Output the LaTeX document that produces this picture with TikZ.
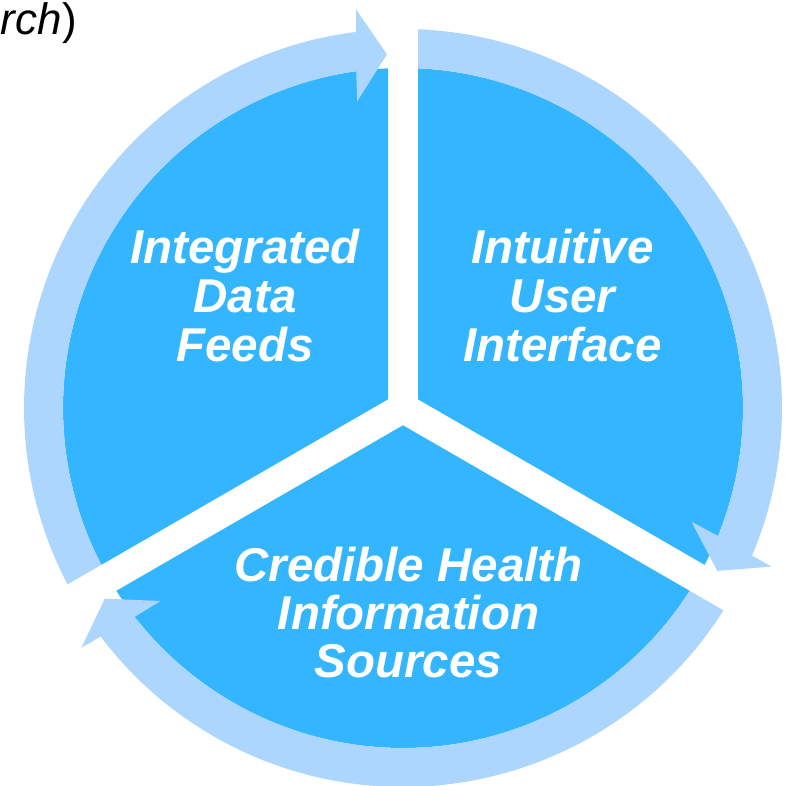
\documentclass[tikz,border=0pt]{standalone}
\usepackage{fontspec}
\setmainfont{Liberation Sans}
\definecolor{pieblue}{HTML}{33B5FF}
\definecolor{ringblue}{HTML}{ADD6FE}
\newcommand{\RingArrow}[2]{%
  \fill[ringarrow] ({#1-2.27}:379) arc[start angle={#1-2.27}, end angle={#2+7.1}, radius=379]
    -- ({#2+6.7}:401) -- ({#2+2.6}:354) -- ({#2+8.5}:310) -- ({#2+7.9}:340)
    arc[start angle={#2+7.9}, end angle={#1-2.53}, radius=340] -- cycle;}
\newcommand{\PieSector}[1]{%
  \fill[sector] ({#1+60}:17.32) -- ({#1+2.53}:340)
    arc[start angle={#1+2.53}, end angle={#1+117.47}, radius=340] -- cycle;}
\begin{document}
\begin{tikzpicture}[x=0.75pt,y=0.75pt,
  sector/.style={fill=pieblue,draw=none},
  ringarrow/.style={fill=ringblue,draw=none},
  lbl/.style={text=white,font=\fontsize{35.6}{37}\selectfont\bfseries\itshape,inner sep=0pt,anchor=base}]
\useasboundingbox (0,0) rectangle (786,786);
\fill[white] (0,0) rectangle (786,786);
\begin{scope}[shift={(403,378)}]
  \PieSector{-30}
  \PieSector{90}
  \PieSector{210}
  \RingArrow{210}{90}
  \RingArrow{90}{-30}
  \RingArrow{-30}{-150}
\end{scope}
% labels
\node[lbl] (l1) at (245,522) {Integrated};
\node[lbl] (l2) at (245,473) {Data};
\node[lbl] (l3) at (245,424) {Feeds};
\node[lbl] (r1) at (562.5,522) {Intuitive};
\node[lbl] (r2) at (562.5,473) {User};
\node[lbl] (r3) at (562.5,424) {Interface};
\node[lbl] (b1) at (408.5,204) {Credible Health};
\node[lbl] (b2) at (408.5,156) {Information};
\node[lbl] (b3) at (408.5,108) {Sources};
\node[inner sep=0pt,anchor=base east,font=\fontsize{33}{38}\selectfont] (top) at (77,751) {\textit{rch\/})};
\end{tikzpicture}
\end{document}
